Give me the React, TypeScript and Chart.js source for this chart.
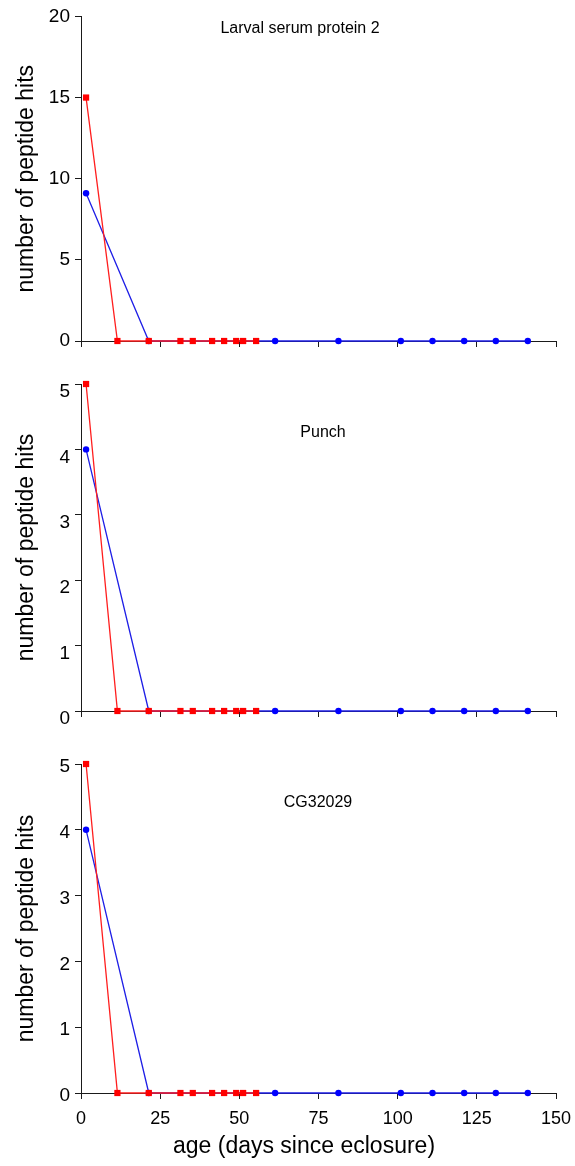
import React, { useEffect, useRef } from 'react';
import { Chart, registerables } from 'chart.js';

Chart.register(...registerables);

// ages (days since eclosure)
const redAges = [1.6, 11.5, 21.4, 31.4, 35.3, 41.4, 45.2, 49.0, 51.2, 55.3];
const blueAges = [1.6, 21.4, 61.3, 81.3, 101.0, 111.0, 121.0, 131.0, 141.1];

// Larval serum protein 2
const lspRed = [15, 0, 0, 0, 0, 0, 0, 0, 0, 0];
const lspBlue = [9.1, 0, 0, 0, 0, 0, 0, 0, 0];
// Punch
const punchRed = [5, 0, 0, 0, 0, 0, 0, 0, 0, 0];
const punchBlue = [4, 0, 0, 0, 0, 0, 0, 0, 0];
// CG32029
const cgRed = [5, 0, 0, 0, 0, 0, 0, 0, 0, 0];
const cgBlue = [4, 0, 0, 0, 0, 0, 0, 0, 0];

const xTicks = [0, 25, 50, 75, 100, 125, 150];
const panelTitles = ['Larval serum protein 2', 'Punch', 'CG32029'];
const yMaxes = [20, 5, 5];
const ySteps = [5, 1, 1];
const yTitle = 'number of peptide hits';
const xTitle = 'age (days since eclosure)';

const FONT = '"Liberation Sans", Arial, Helvetica, sans-serif';
const AXIS = '#1a1a1a';

const textPlugin = {
  id: 'panelText',
  afterDraw(chart: any, _args: any, opts: any) {
    const ctx = chart.ctx;
    ctx.save();
    ctx.fillStyle = '#000';
    ctx.textAlign = 'center';
    ctx.textBaseline = 'middle';
    for (const t of opts.items || []) {
      ctx.font = `${t.size}px ${FONT}`;
      ctx.fillText(t.text, t.x, t.y);
    }
    ctx.restore();
  },
};

type PanelProps = {
  top: number;
  height: number;
  padTop: number;
  xAxisHeight: number;
  showX: boolean;
  red: number[];
  blue: number[];
  yMax: number;
  yStep: number;
  title: string;
  titleX: number;
  titleY: number;
  labelOffset: number;
};

function Panel(p: PanelProps) {
  const ref = useRef<HTMLCanvasElement | null>(null);
  useEffect(() => {
    if (!ref.current) return;
    const items: any[] = [{ text: p.title, x: p.titleX, y: p.titleY, size: 16 }];
    if (p.showX) items.push({ text: xTitle, x: 304, y: p.height - 19, size: 23 });
    const chart = new Chart(ref.current, {
      type: 'scatter',
      data: {
        datasets: [
          {
            label: 'red',
            data: redAges.map((x, i) => ({ x, y: p.red[i] })),
            showLine: true,
            borderColor: 'rgb(255,30,30)',
            backgroundColor: 'rgb(255,0,0)',
            pointBorderColor: 'rgb(255,0,0)',
            borderWidth: 1.3,
            pointStyle: 'rect',
            pointRadius: 4.4,
            pointBorderWidth: 0,
            clip: false,
          } as any,
          {
            label: 'blue',
            data: blueAges.map((x, i) => ({ x, y: p.blue[i] })),
            showLine: true,
            borderColor: 'rgb(30,30,230)',
            backgroundColor: 'rgb(0,0,255)',
            pointBorderColor: 'rgb(0,0,255)',
            borderWidth: 1.3,
            pointStyle: 'circle',
            pointRadius: 3.2,
            pointBorderWidth: 0,
            clip: false,
          } as any,
        ],
      },
      options: {
        animation: false,
        responsive: false,
        maintainAspectRatio: false,
        layout: { padding: { top: p.padTop, right: 19, left: 0, bottom: 0 } },
        plugins: {
          legend: { display: false },
          tooltip: { enabled: false },
          panelText: { items },
        } as any,
        scales: {
          x: {
            type: 'linear',
            min: 0,
            max: 150,
            afterBuildTicks: (axis: any) => {
              axis.ticks = xTicks.map((v) => ({ value: v }));
            },
            afterFit: (axis: any) => {
              axis.height = p.xAxisHeight;
              axis.paddingLeft = 0;
              axis.paddingRight = 0;
            },
            ticks: {
              display: p.showX,
              color: '#000',
              font: { family: FONT, size: 18 },
              padding: 9,
              maxRotation: 0,
            },
            grid: { drawOnChartArea: false, drawTicks: true, tickLength: 6, color: AXIS, lineWidth: 1 },
            border: { display: true, color: AXIS, width: 1 },
            title: { display: false },
          },
          y: {
            type: 'linear',
            min: 0,
            max: p.yMax,
            afterFit: (axis: any) => {
              axis.width = 81;
            },
            ticks: {
              stepSize: p.yStep,
              color: '#000',
              font: { family: FONT, size: 19 },
              padding: 5,
              labelOffset: p.labelOffset,
            },
            grid: { drawOnChartArea: false, drawTicks: true, tickLength: 6, color: AXIS, lineWidth: 1 },
            border: { display: true, color: AXIS, width: 1 },
            title: {
              display: true,
              text: yTitle,
              color: '#000',
              font: { family: FONT, size: 23 },
              padding: { top: 13, bottom: 0 },
            },
          },
        },
      },
      plugins: [textPlugin as any],
    });
    return () => chart.destroy();
  }, []);
  return (
    <canvas
      ref={ref}
      width={575}
      height={p.height}
      style={{ position: 'absolute', left: 0, top: p.top, width: 575, height: p.height, display: 'block' }}
    />
  );
}

export default function App() {
  return (
    <div style={{ position: 'absolute', left: 0, top: 0, width: 575, height: 1166, background: '#fff' }}>
      <Panel
        top={0}
        height={360}
        padTop={14}
        xAxisHeight={19}
        showX={false}
        red={lspRed}
        blue={lspBlue}
        yMax={yMaxes[0]}
        yStep={ySteps[0]}
        title={panelTitles[0]}
        titleX={300}
        titleY={29}
        labelOffset={0}
      />
      <Panel
        top={360}
        height={380}
        padTop={24}
        xAxisHeight={29}
        showX={false}
        red={punchRed}
        blue={punchBlue}
        yMax={yMaxes[1]}
        yStep={ySteps[1]}
        title={panelTitles[1]}
        titleX={323}
        titleY={73}
        labelOffset={8}
      />
      <Panel
        top={740}
        height={426}
        padTop={24}
        xAxisHeight={73}
        showX={true}
        red={cgRed}
        blue={cgBlue}
        yMax={yMaxes[2]}
        yStep={ySteps[2]}
        title={panelTitles[2]}
        titleX={318}
        titleY={63}
        labelOffset={3}
      />
    </div>
  );
}
